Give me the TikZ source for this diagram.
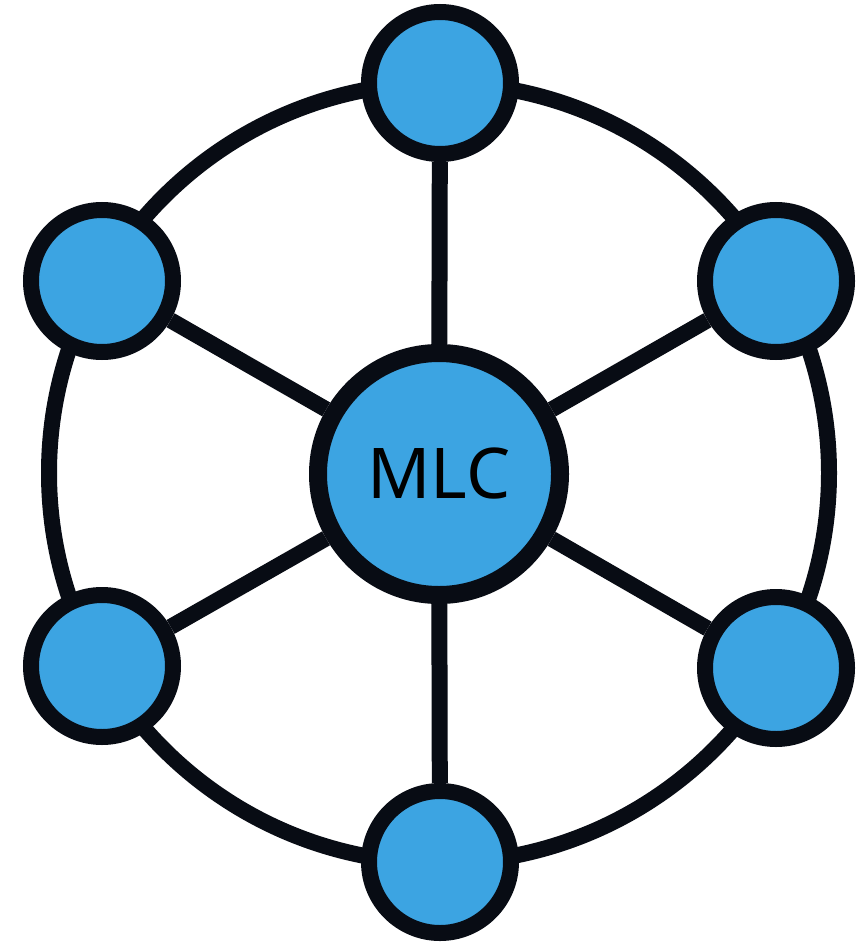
\documentclass[tikz,border=0pt]{standalone}
\usepackage{fontspec}
\usetikzlibrary{backgrounds}
\newfontfamily\lab{Noto Sans}
\definecolor{nodeblue}{RGB}{60,164,226}
\definecolor{edgeblack}{RGB}{8,12,20}
\begin{document}
\begin{tikzpicture}[x=1pt,y=-1pt,
  hub/.style={circle,draw=edgeblack,line width=18pt,fill=nodeblue,minimum size=242pt,inner sep=0pt,font=\lab\fontsize{70}{80}\selectfont,text=black},
  leaf/.style={circle,draw=edgeblack,line width=16pt,fill=nodeblue,minimum size=142pt,inner sep=0pt},
  link/.style={draw=edgeblack,line width=16pt}]
\useasboundingbox (0,0) rectangle (866,944);
\node[hub] (c) at (439,474) {MLC};
\node[leaf] (t) at (440,83) {};
\node[leaf] (ul) at (102,281) {};
\node[leaf] (ur) at (776,281) {};
\node[leaf] (ll) at (102,666) {};
\node[leaf] (lr) at (776,668) {};
\node[leaf] (b) at (440,862) {};
\coordinate (rc) at (439,473);
\begin{scope}[on background layer]
\fill[white] (0,0) rectangle (866,944);
\draw[link] (rc) circle (390);
\foreach \n in {t,ul,ur,ll,lr,b}{\draw[link] (c) -- (\n);}
\end{scope}
\end{tikzpicture}
\end{document}
